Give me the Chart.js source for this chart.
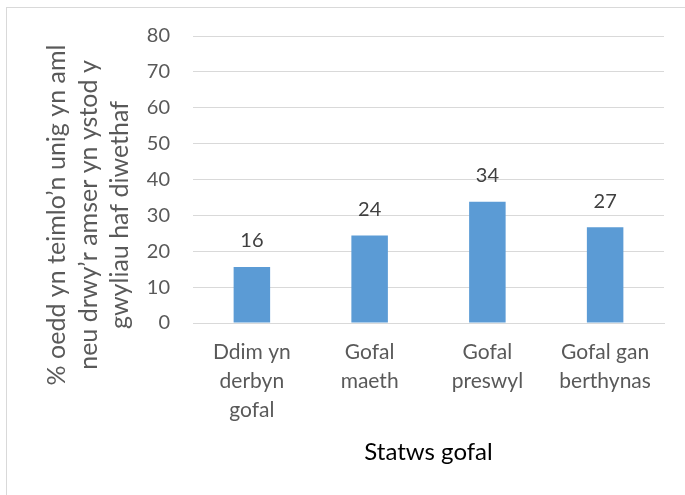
<!DOCTYPE html>
<html>
<head>
<meta charset="utf-8">
<script src="https://cdn.jsdelivr.net/npm/chart.js@4.4.1/dist/chart.umd.min.js"></script>
<style>
  html, body { margin: 0; padding: 0; background: #fff; }
  canvas { display: block; }
</style>
</head>
<body>
<canvas id="chart" width="685" height="495"></canvas>
<script>
// categories and values
var categories = [
    ['Ddim yn', 'derbyn', 'gofal'],
    ['Gofal', 'maeth'],
    ['Gofal', 'preswyl'],
    ['Gofal gan', 'berthynas']
];
var values = [15.6, 24.4, 33.8, 26.7];
var yTitle = ['% oedd yn teimlo’n unig yn aml', 'neu drwy’r amser yn ystod y', 'gwyliau haf diwethaf'];
var xTitle = 'Statws gofal';

// white background + light frame like the Excel chart area
var frame = {
    id: 'frame',
    beforeDraw: function (chart) {
        var ctx = chart.ctx;
        ctx.save();
        ctx.fillStyle = '#ffffff';
        ctx.fillRect(0, 0, chart.width, chart.height);
        ctx.strokeStyle = '#d9d9d9';
        ctx.lineWidth = 1;
        ctx.strokeRect(6.5, 7.5, 720, 520);
        ctx.restore();
    }
};

// y title drawn by hand: in the original it sits lower than the plot centre
var yTitlePlugin = {
    id: 'yTitlePlugin',
    afterDraw: function (chart) {
        var ctx = chart.ctx;
        ctx.save();
        ctx.font = '25px Lato';
        ctx.fillStyle = '#595959';
        ctx.textAlign = 'center';
        ctx.textBaseline = 'alphabetic';
        yTitle.forEach(function (line, i) {
            ctx.save();
            ctx.translate(65 + i * 31.5, 215);
            ctx.rotate(-Math.PI / 2);
            ctx.fillText(line, 0, 0);
            ctx.restore();
        });
        ctx.restore();
    }
};

// value labels above the bars
var barLabels = {
    id: 'barLabels',
    afterDatasetsDraw: function (chart) {
        var ctx = chart.ctx;
        var meta = chart.getDatasetMeta(0);
        ctx.save();
        ctx.font = '20px Lato';
        ctx.fillStyle = '#404040';
        ctx.textAlign = 'center';
        ctx.textBaseline = 'middle';
        meta.data.forEach(function (bar, i) {
            ctx.fillText(Math.round(values[i]), bar.x, bar.y - 26);
        });
        ctx.restore();
    }
};

new Chart(document.getElementById('chart'), {
    type: 'bar',
    data: {
        labels: categories,
        datasets: [{
            data: values,
            backgroundColor: '#5b9bd5',
            borderWidth: 0,
            barPercentage: 0.31,
            categoryPercentage: 1
        }]
    },
    options: {
        responsive: false,
        animation: false,
        layout: {
            padding: { left: 41, right: 21, top: 36, bottom: 28 }
        },
        plugins: {
            legend: { display: false },
            tooltip: { enabled: false }
        },
        scales: {
            x: {
                afterFit: function (scale) { scale.height = 144; },
                grid: { display: false, drawTicks: false },
                border: { color: '#d9d9d9' },
                ticks: {
                    color: '#595959',
                    font: { family: 'Lato', size: 21, lineHeight: '29px' },
                    padding: 15,
                    maxRotation: 0,
                    autoSkip: false
                },
                title: {
                    display: true,
                    text: xTitle,
                    color: '#000000',
                    font: { family: 'Lato', size: 24, lineHeight: '30px' },
                    padding: { top: 12, bottom: 0 }
                }
            },
            y: {
                afterFit: function (scale) { scale.width = 152; },
                min: 0,
                max: 80,
                grid: { color: '#d9d9d9', drawTicks: false },
                border: { display: false },
                ticks: {
                    stepSize: 10,
                    color: '#595959',
                    font: { family: 'Lato', size: 20 },
                    padding: 23
                },
                title: { display: false }
            }
        }
    },
    plugins: [frame, yTitlePlugin, barLabels]
});
</script>
</body>
</html>
